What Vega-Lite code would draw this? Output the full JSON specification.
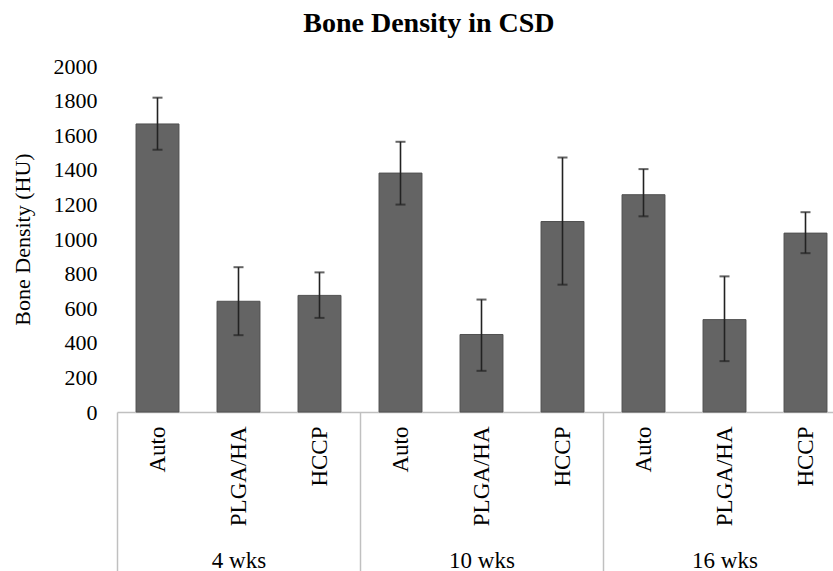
{
  "$schema": "https://vega.github.io/schema/vega-lite/v6.json",
  "autosize": {"type": "none"},
  "width": 729,
  "height": 346,
  "padding": {"left": 117, "top": 66, "right": -13, "bottom": 159},
  "background": "white",
  "config": {
    "view": {"stroke": null},
    "font": "Liberation Serif",
    "axisY": {"labelOverlap": false}
  },
  "title": {
    "text": "Bone Density in CSD",
    "font": "Liberation Serif",
    "fontSize": 28,
    "fontWeight": "bold",
    "color": "black",
    "anchor": "middle",
    "frame": "bounds",
    "baseline": "alphabetic",
    "offset": -5
  },
  "data": {
    "values": [
      {"week": "4 wks", "group": "Auto", "key": "4 wks|Auto", "value": 1665, "lo": 1516, "hi": 1817},
      {"week": "4 wks", "group": "PLGA/HA", "key": "4 wks|PLGA/HA", "value": 640, "lo": 444, "hi": 837},
      {"week": "4 wks", "group": "HCCP", "key": "4 wks|HCCP", "value": 674, "lo": 544, "hi": 807},
      {"week": "10 wks", "group": "Auto", "key": "10 wks|Auto", "value": 1381, "lo": 1199, "hi": 1562},
      {"week": "10 wks", "group": "PLGA/HA", "key": "10 wks|PLGA/HA", "value": 448, "lo": 238, "hi": 650},
      {"week": "10 wks", "group": "HCCP", "key": "10 wks|HCCP", "value": 1101, "lo": 736, "hi": 1471},
      {"week": "16 wks", "group": "Auto", "key": "16 wks|Auto", "value": 1256, "lo": 1131, "hi": 1404},
      {"week": "16 wks", "group": "PLGA/HA", "key": "16 wks|PLGA/HA", "value": 534, "lo": 294, "hi": 784},
      {"week": "16 wks", "group": "HCCP", "key": "16 wks|HCCP", "value": 1034, "lo": 918, "hi": 1155}
    ]
  },
  "layer": [
    {
      "encoding": {
        "x": {
          "field": "key",
          "type": "nominal",
          "sort": null,
          "scale": {"paddingInner": 0.47, "paddingOuter": 0.235},
          "axis": {
            "orient": "bottom",
            "title": null,
            "labelExpr": "split(datum.value, '|')[1]",
            "labelAngle": -90,
            "labelFont": "Liberation Serif",
            "labelFontSize": 23,
            "labelColor": "black",
            "labelPadding": 14,
            "labelOverlap": false,
            "ticks": false,
            "domainColor": "#c0c0c0",
            "domainWidth": 1.5
          }
        }
      },
      "layer": [
        {
          "mark": {"type": "bar", "fill": "#646464", "stroke": "#505050", "strokeWidth": 1},
          "encoding": {
            "y": {
              "field": "value",
              "type": "quantitative",
              "scale": {"domain": [0, 2000], "nice": false},
              "axis": {
                "title": "Bone Density (HU)",
                "titleFont": "Liberation Serif",
                "titleFontSize": 22,
                "titleFontWeight": "normal",
                "titleColor": "black",
                "titlePadding": 19,
                "values": [0, 200, 400, 600, 800, 1000, 1200, 1400, 1600, 1800, 2000],
                "format": "d",
                "labelOverlap": false,
                "labelFont": "Liberation Serif",
                "labelFontSize": 22,
                "labelColor": "black",
                "labelPadding": 20,
                "ticks": false,
                "domain": false,
                "grid": false
              }
            }
          }
        },
        {
          "mark": {
            "type": "errorbar",
            "ticks": {"size": 10, "thickness": 2, "color": "#222222"},
            "rule": {"strokeWidth": 1.6, "color": "#222222"}
          },
          "encoding": {
            "y": {
              "field": "lo",
              "type": "quantitative",
              "title": "Bone Density (HU)",
              "axis": {
                "title": "Bone Density (HU)",
                "titleFont": "Liberation Serif",
                "titleFontSize": 22,
                "titleFontWeight": "normal",
                "titleColor": "black",
                "titlePadding": 19,
                "values": [0, 200, 400, 600, 800, 1000, 1200, 1400, 1600, 1800, 2000],
                "format": "d",
                "labelOverlap": false,
                "labelFont": "Liberation Serif",
                "labelFontSize": 22,
                "labelColor": "black",
                "labelPadding": 20,
                "ticks": false,
                "domain": false,
                "grid": false
              }
            },
            "y2": {"field": "hi"}
          }
        }
      ]
    },
    {
      "mark": {"type": "rule", "opacity": 0},
      "encoding": {
        "x": {
          "field": "week",
          "type": "nominal",
          "sort": null,
          "scale": {"paddingInner": 0, "paddingOuter": 0},
          "axis": {
            "orient": "bottom",
            "title": null,
            "labelAngle": 0,
            "labelFont": "Liberation Serif",
            "labelFontSize": 23,
            "labelColor": "black",
            "labelBaseline": "alphabetic",
            "labelPadding": -4,
            "labelOverlap": false,
            "tickBand": "extent",
            "tickSize": 159,
            "tickColor": "#c0c0c0",
            "tickWidth": 1.5,
            "domain": false
          }
        }
      }
    }
  ],
  "resolve": {"scale": {"x": "independent"}, "axis": {"x": "independent"}}
}
